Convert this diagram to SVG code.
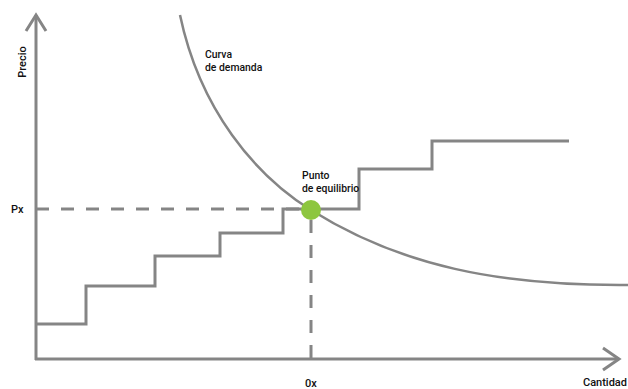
<svg xmlns="http://www.w3.org/2000/svg" width="628" height="389" viewBox="0 0 628 389">
<style>
.ln{fill:none;stroke:#858585;stroke-width:3;stroke-linejoin:miter;stroke-linecap:butt}
.crv{fill:none;stroke:#858585;stroke-width:2.5}
.dash{fill:none;stroke:#858585;stroke-width:3;stroke-dasharray:13 12}
.t{font-family:Roboto,"Liberation Sans",Arial,sans-serif;font-size:11px;font-weight:500;fill:#111111}
.t2{font-family:Roboto,"Liberation Sans",Arial,sans-serif;font-size:10.4px;font-weight:500;fill:#111111}
</style>
<rect width="628" height="389" fill="#ffffff"/>
<g id="connectors">
<path id="demand-curve" class="crv" d="M180,15 C200,110 255,175 311,210 C400,266 500,286 628,285"/>
<polyline id="supply-steps" class="ln" points="36,324 86,324 86,286 155,286 155,256 220,256 220,233 283,233 283,209 359,209 359,169 432,169 432,141 569,141"/>
<line class="dash" x1="36" y1="209" x2="302" y2="209"/>
<line class="dash" x1="311" y1="220" x2="311" y2="358"/>
<line id="y-axis" class="ln" x1="36" y1="15" x2="36" y2="360"/>
<line id="x-axis" class="ln" x1="35" y1="359" x2="619" y2="359"/>
<polyline class="ln" points="26,31 36,15 46,31"/>
<polyline class="ln" points="603,348 619,359 603,370"/>
</g>
<g id="equilibrium">
<circle cx="311" cy="210" r="10" fill="#8dc63f"/>
<text class="t2" x="302" y="179">Punto</text>
<text class="t2" x="302" y="191.5">de equilibrio</text>
</g>
<g id="demand-label">
<text class="t2" x="205" y="58">Curva</text>
<text class="t2" x="205" y="70.5">de demanda</text>
</g>
<g id="y-label"><text class="t" transform="translate(26,62) rotate(-90)" text-anchor="middle">Precio</text></g>
<g id="x-label"><text class="t" x="627" y="386" text-anchor="end">Cantidad</text></g>
<g id="px-label"><text class="t" x="11" y="213">Px</text></g>
<g id="ox-label"><text class="t" x="311" y="387" text-anchor="middle">0x</text></g>
</svg>
